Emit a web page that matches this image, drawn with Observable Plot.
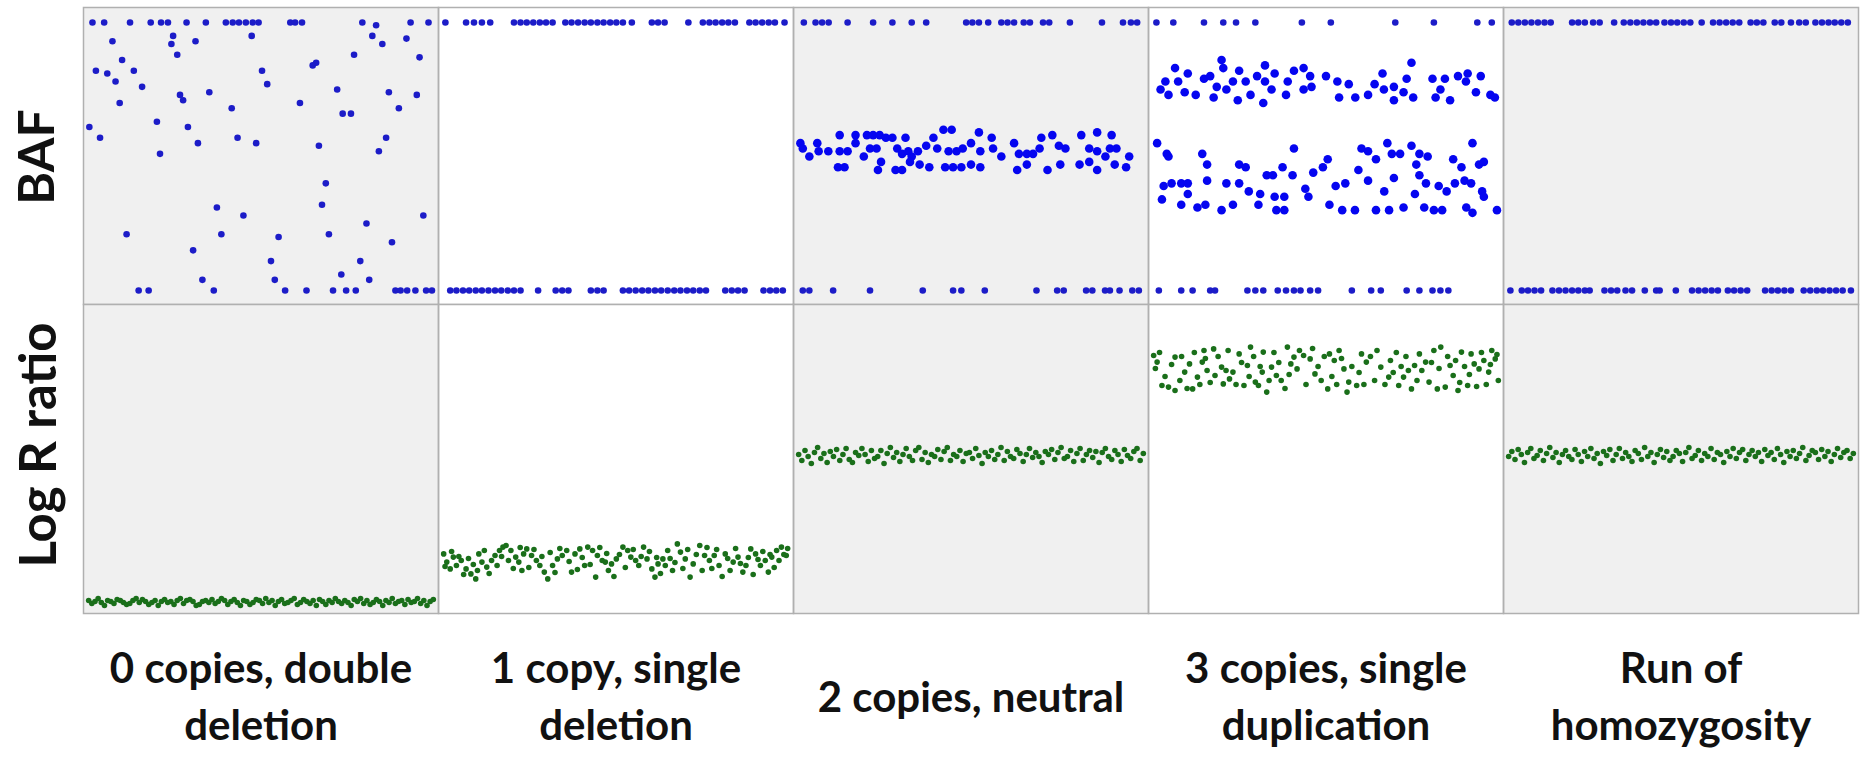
<!DOCTYPE html>
<html>
<head>
<meta charset="utf-8">
<script src="https://cdn.jsdelivr.net/npm/d3@7"></script>
<script src="https://cdn.jsdelivr.net/npm/@observablehq/plot@0.6"></script>
<style>
  html, body { margin: 0; padding: 0; background: #ffffff; }
  #chart svg { display: block; }
  #chart svg + svg { margin-top: -1px; }
</style>
</head>
<body>
<div id="chart"></div>
<script>
// ---------------- DATA ----------------
const columns = [
  "0 copies, double\ndeletion",
  "1 copy, single\ndeletion",
  "2 copies, neutral",
  "3 copies, single\nduplication",
  "Run of\nhomozygosity"
];
const rowLabels = ["BAF", "Log R ratio"];

// BAF = 1 probes (x position within segment, 0-100)
const bafBB = [
  [1.1, 4.5, 12, 18, 21, 23, 28.4, 34, 39.8, 41.8, 43.6, 45.6, 47.6, 49.3, 58.5, 59.9, 61.9, 79.4, 93.4, 98.6],
  [0.5, 6.5, 8.8, 11.1, 13.5, 20.4, 22.3, 24.1, 26, 27.9, 29.7, 31.6, 35.3, 37.1, 39, 40.9, 42.7, 44.6, 46.4, 48.3, 50.1, 52, 54.6, 60.4, 62.2, 64.1, 71, 75.2, 77.1, 78.9, 80.8, 82.6, 84.5, 88.7, 90.5, 92.4, 94.3, 96.1, 98.9],
  [1.5, 4.9, 6.8, 8.7, 14.2, 21.6, 27.2, 32.8, 37, 48.6, 50.4, 52.3, 55, 58.8, 60.6, 62.5, 65.3, 67.1, 70.9, 72.7, 78.7, 88, 94.1, 96.4, 98.2],
  [0.8, 5.7, 14.6, 20.2, 23.9, 29.5, 43, 51.4, 70.1, 81.3, 93.9, 98.1],
  [0.9, 2.8, 4.7, 6.6, 8.5, 10.4, 12.2, 18.4, 20.2, 22.1, 24.5, 26.4, 30.6, 33.4, 35.3, 37.2, 39.1, 41, 42.8, 45.2, 47.1, 48.9, 50.8, 52.7, 56, 59.3, 61.2, 63.1, 65, 66.9, 70.2, 72, 73.9, 77.2, 79.1, 81.9, 84.3, 86.2, 89, 90.9, 92.8, 94.6, 96.5, 98.4]
];

// BAF = 0 probes
const bafAA = [
  [14.5, 17.4, 36.3, 57, 63.2, 70.9, 74.7, 77.5, 89, 90.5, 92.4, 94.8, 97.9, 99.6],
  [1.9, 3.7, 5.6, 7.4, 9.3, 11.1, 13, 14.9, 16.7, 18.6, 20.4, 22.3, 27.4, 32.5, 34.4, 36.2, 42.7, 44.6, 46.4, 52, 53.8, 55.7, 57.6, 59.4, 61.3, 63.1, 65, 66.9, 68.7, 70.6, 72.4, 74.3, 76.1, 81.7, 83.6, 85.4, 87.3, 92.8, 94.7, 96.5, 98.4],
  [1.2, 3.1, 10, 20.7, 36, 44.8, 47.2, 54, 69, 75, 76.9, 83.4, 85.2, 88.9, 90.3, 93.1, 96.8, 98.7],
  [1.5, 8, 11.3, 16.4, 17.8, 27.2, 29.5, 31.8, 36, 38.4, 40.7, 42.6, 45.4, 47.7, 57.5, 63.1, 65.9, 73.4, 77.1, 80.9, 83.2, 85.5],
  [0.5, 3.8, 5.6, 7.5, 9.4, 12.7, 14.6, 16.5, 18.4, 20.2, 22.1, 23.5, 27.8, 29.7, 31.5, 33.9, 35.8, 39.5, 42.8, 43.8, 48.5, 53.2, 55.1, 57, 58.9, 60.7, 63.6, 65.4, 67.3, 69.2, 74.4, 76.3, 78.1, 80, 81.9, 85.6, 87.5, 89.4, 91.2, 93.1, 95, 96.9, 99.3]
];

// intermediate BAF probes: [x, BAF]
const bafMid0 = [
  [83.4,.99],[6.9,.93],[24.5,.95],[24,.92],[31,.93],[47.3,.95],[82.3,.95],[85.2,.92],[92.2,.94],[25.7,.88],
  [9.7,.86],[77,.88],[96,.87],[2.1,.82],[5.4,.81],[7.8,.78],[13.1,.82],[15.5,.76],[66,.85],[65,.84],
  [50.3,.82],[51.8,.77],[26.5,.73],[27.4,.71],[35,.74],[9,.70],[41.5,.68],[61.3,.70],[72.1,.75],[73.7,.66],
  [76.1,.66],[87.1,.74],[95.2,.73],[90,.68],[0.2,.61],[3.3,.57],[19.8,.63],[28.8,.61],[20.7,.51],[31.7,.55],
  [43.2,.57],[48.6,.55],[66.8,.54],[86.3,.57],[84.2,.52],[68.8,.40],[67.7,.32],[37.2,.31],[44.9,.28],[97.1,.28],
  [80.6,.25],[11,.21],[38.5,.21],[55.1,.20],[69.7,.21],[88,.18],[30.3,.15],[52.9,.11],[78.8,.11],[33,.04],
  [54,.04],[73.3,.06],[81.4,.04]
];
const bafMid1 = [];
const bafMid2 = [
  [0.5,.55],[1.2,.53],[3.1,.50],[5.4,.55],[5.8,.52],[8.6,.52],[11.9,.58],[11.9,.52],[11.4,.46],[13.3,.46],
  [14.2,.52],[16.5,.58],[16.5,.55],[18.9,.50],[19.8,.58],[21.6,.58],[23.5,.58],[20.7,.53],[22.6,.53],[23.9,.48],
  [23,.45],[25.3,.57],[27.2,.57],[28.6,.53],[30,.51],[31,.57],[31.8,.52],[32.8,.50],[28.1,.45],[30,.45],
  [32.3,.48],[34.6,.52],[35.1,.47],[37,.54],[37.9,.46],[39.1,.57],[40.2,.53],[42,.60],[44.4,.60],[43.5,.52],
  [45.8,.52],[42.5,.46],[44.8,.46],[47.2,.46],[47.6,.53],[50,.55],[50,.47],[52.3,.59],[52.7,.52],[52.7,.46],
  [56,.57],[56.4,.53],[58.8,.50],[62.5,.55],[63.9,.51],[63.4,.45],[66.2,.47],[66.2,.51],[68,.51],[69.9,.53],
  [70.4,.57],[72.2,.45],[73.6,.58],[75.5,.54],[75.9,.47],[77.4,.53],[81.5,.47],[82,.58],[84.3,.53],[84.3,.48],
  [86.6,.59],[86.6,.52],[86.6,.45],[89,.50],[90.8,.58],[90.3,.53],[92.2,.53],[91.7,.47],[95,.46],[95.9,.50]
];
const bafMid3 = [
  [6.2,.83],[3.4,.78],[2,.75],[4.3,.73],[7.1,.78],[9.9,.81],[9,.74],[12.2,.73],[14.6,.79],[16.4,.80],
  [19.7,.86],[20.2,.83],[18.3,.76],[17.4,.72],[21.1,.75],[23,.78],[24.8,.82],[24.4,.71],[26.7,.78],[28.1,.73],
  [30,.80],[32.3,.84],[32.3,.78],[31.8,.70],[34.2,.75],[35.1,.81],[38.4,.73],[38.9,.78],[40.7,.82],[43.5,.83],
  [45.4,.80],[43.5,.75],[45.8,.76],[50,.80],[53.3,.78],[53.8,.72],[56.6,.77],[58.5,.72],[62.2,.73],[64.1,.77],
  [66.4,.81],[66.8,.75],[69.7,.76],[69.7,.71],[72.5,.74],[73.4,.79],[74.8,.85],[75.3,.72],[80.9,.79],[81.8,.72],
  [83.2,.75],[84.5,.79],[86,.71],[88.3,.80],[91.1,.81],[90.6,.78],[93.5,.74],[94.9,.80],[97.7,.73],[99,.72],
  [1,.55],[3.8,.51],[4.3,.50],[5.2,.40],[2.9,.39],[2.4,.34],[8,.40],[9.9,.40],[9.9,.36],[8,.32],
  [12.7,.31],[15,.32],[15.5,.41],[14.1,.51],[15.5,.47],[21.1,.40],[19.7,.30],[23,.32],[24.8,.47],[24.8,.40],
  [26.7,.46],[27.6,.37],[30.9,.36],[30.4,.32],[32.8,.43],[34.6,.43],[35.1,.35],[35.6,.30],[37.9,.30],[37.4,.46],
  [37.9,.35],[40.7,.53],[40.3,.43],[44,.38],[44.9,.35],[46.3,.44],[49.1,.46],[50.5,.49],[51,.32],[52.8,.39],
  [54.7,.30],[55.6,.40],[58.4,.30],[59.4,.45],[60.3,.53],[62.2,.52],[62.2,.41],[64.5,.49],[64.5,.30],[66.9,.37],
  [68.3,.30],[67.8,.55],[69.1,.51],[69.7,.42],[71.5,.51],[72.5,.31],[74.8,.54],[76.2,.47],[75.8,.36],[77.1,.43],
  [77.1,.51],[79.5,.50],[79,.40],[78.5,.31],[81.3,.30],[83.7,.30],[82.7,.39],[85,.37],[86.9,.49],[87.4,.40],
  [89.3,.46],[90.2,.41],[90.7,.31],[92.5,.29],[92.1,.40],[92.5,.55],[94.4,.47],[95.8,.48],[95.3,.37],[95.8,.35],
  [99.6,.30]
];
const bafMid4 = [];
const bafMid = [bafMid0, bafMid1, bafMid2, bafMid3, bafMid4];

// Log R ratio: dense segments (probes in order along the segment)
const lrr0 = [
  -0.72,-0.735,-0.725,-0.71,-0.73,-0.745,-0.72,-0.725,-0.735,-0.715,
  -0.72,-0.73,-0.74,-0.735,-0.72,-0.71,-0.73,-0.715,-0.725,-0.74,
  -0.73,-0.72,-0.745,-0.725,-0.715,-0.73,-0.725,-0.74,-0.72,-0.71,
  -0.735,-0.72,-0.715,-0.725,-0.745,-0.74,-0.725,-0.72,-0.73,-0.715,
  -0.735,-0.725,-0.71,-0.72,-0.74,-0.725,-0.715,-0.73,-0.745,-0.72,
  -0.725,-0.74,-0.73,-0.715,-0.72,-0.735,-0.71,-0.73,-0.72,-0.745,
  -0.725,-0.715,-0.735,-0.73,-0.72,-0.71,-0.74,-0.73,-0.715,-0.725,
  -0.735,-0.72,-0.745,-0.715,-0.725,-0.74,-0.72,-0.73,-0.71,-0.725,
  -0.735,-0.72,-0.73,-0.745,-0.715,-0.725,-0.71,-0.735,-0.72,-0.74,
  -0.73,-0.715,-0.725,-0.745,-0.72,-0.73,-0.71,-0.735,-0.725,-0.72,
  -0.74,-0.715,-0.73,-0.725,-0.71,-0.735,-0.72,-0.745,-0.725,-0.715];
const lrr2 = [
  0.01,-0.02,0.03,0.0,-0.035,0.02,0.045,-0.01,0.015,-0.03,
  0.025,0.0,0.035,-0.02,0.01,0.04,-0.015,-0.03,0.02,0.005,
  0.04,0.01,-0.025,0.03,-0.01,0.0,0.03,-0.035,0.015,0.045,
  -0.005,0.02,-0.025,0.01,0.04,0.0,-0.02,0.03,0.045,-0.015,
  0.02,-0.03,0.01,0.0,0.035,-0.015,0.025,0.045,-0.02,0.01,
  0.0,0.03,-0.025,0.015,0.02,-0.01,0.04,0.005,-0.035,0.02,
  0.0,0.03,-0.015,0.01,0.045,-0.02,0.025,0.0,-0.01,0.035,
  0.015,-0.025,0.01,0.04,-0.005,0.02,0.0,-0.03,0.025,0.01,
  0.035,-0.015,0.02,0.045,-0.01,0.0,0.03,-0.025,0.015,0.04,
  -0.02,0.01,0.03,-0.005,0.025,-0.03,0.02,0.04,0.0,-0.015,
  0.03,0.01,-0.025,0.035,0.005,-0.01,0.025,0.04,-0.02,0.015];
const lrr4 = [
  0.0,0.025,-0.015,0.035,0.01,-0.03,0.02,0.04,-0.01,0.005,
  0.03,-0.02,0.015,0.045,-0.005,0.02,-0.03,0.01,0.03,0.0,
  -0.015,0.035,0.01,-0.025,0.025,0.0,0.04,-0.01,0.015,-0.035,
  0.025,0.005,0.035,-0.02,0.01,0.04,-0.01,0.02,0.0,-0.025,
  0.03,0.015,-0.015,0.045,0.0,0.02,-0.03,0.01,0.035,-0.005,
  0.025,-0.02,0.0,0.03,0.015,-0.025,0.02,0.045,-0.01,0.005,
  0.03,-0.02,0.015,0.0,0.04,-0.015,0.02,0.01,-0.03,0.025,
  0.0,0.04,-0.01,0.02,0.035,-0.02,0.01,0.03,0.0,0.02,
  -0.025,0.035,0.005,0.02,-0.015,0.04,0.01,-0.03,0.025,0.0,
  0.03,-0.01,0.015,0.045,-0.02,0.005,0.03,0.02,-0.015,0.035,
  0.0,0.025,-0.025,0.01,0.04,-0.005,0.02,0.03,-0.01,0.015];
// Log R ratio: scattered segments [x, LRR]
const lrr1 = [
  [0,-0.487],[0.9,-0.528],[1.9,-0.562],[2.8,-0.503],[3.7,-0.545],[5.1,-0.52],[6.5,-0.562],[7.9,-0.587],[9.3,-0.612],[10.2,-0.487],
  [11.1,-0.528],[12.5,-0.553],[13.9,-0.52],[14.9,-0.495],[16.2,-0.47],[17.2,-0.453],[18.1,-0.445],[19.5,-0.47],[20.9,-0.503],[21.8,-0.528],
  [22.7,-0.57],[23.2,-0.487],[24.1,-0.462],[25.5,-0.495],[26.9,-0.52],[27.9,-0.545],[29.2,-0.578],[30.2,-0.612],[31.6,-0.545],[33,-0.512],
  [34.4,-0.495],[35.7,-0.47],[37.1,-0.578],[38.1,-0.487],[39.5,-0.462],[40.9,-0.545],[41.8,-0.453],[43.2,-0.47],[44.1,-0.603],[44.6,-0.495],
  [46,-0.52],[46.9,-0.528],[47.8,-0.57],[48.7,-0.537],[50.1,-0.512],[52,-0.453],[53.4,-0.47],[54.3,-0.503],[55.7,-0.52],[56.6,-0.545],
  [58,-0.453],[59,-0.512],[60.4,-0.562],[61.3,-0.603],[62.2,-0.537],[63.6,-0.512],[65,-0.47],[66.4,-0.57],[67.8,-0.437],[68.7,-0.478],
  [70.1,-0.512],[71.5,-0.603],[72.4,-0.537],[74.3,-0.445],[75.7,-0.495],[77.1,-0.52],[78.5,-0.495],[79.9,-0.545],[81.7,-0.487],[83.1,-0.57],
  [84,-0.528],[85.4,-0.503],[86.8,-0.578],[87.7,-0.545],[89.1,-0.462],[90.5,-0.487],[91.9,-0.545],[93.3,-0.52],[94.2,-0.578],[95.2,-0.503],
  [96.6,-0.47],[98,-0.453],[99.4,-0.495],
  [0.4,-0.55],[2.3,-0.475],[4.4,-0.5],[5.8,-0.59],[7.2,-0.51],[8.6,-0.54],[9.8,-0.57],[11.8,-0.47],[13.2,-0.585],[15.5,-0.545],
  [16.8,-0.5],[18.8,-0.52],[20.2,-0.56],[22.2,-0.455],[24.7,-0.555],[26.2,-0.465],[28.5,-0.5],[30.9,-0.48],[32.3,-0.58],[33.7,-0.46],
  [36.4,-0.525],[38.8,-0.565],[40.2,-0.505],[42.5,-0.54],[45.3,-0.455],[47.3,-0.485],[49.4,-0.6],[51,-0.49],[52.7,-0.555],[55,-0.465],
  [57.3,-0.5],[59.7,-0.475],[61.8,-0.505],[62.9,-0.585],[64.3,-0.545],[65.7,-0.51],[67.1,-0.53],[69.4,-0.56],[70.8,-0.465],[73.3,-0.49],
  [75,-0.57],[76.4,-0.455],[77.8,-0.56],[79.2,-0.465],[80.8,-0.6],[82.4,-0.51],[84.7,-0.46],[86.1,-0.535],[88.4,-0.505],[89.8,-0.59],
  [91.2,-0.515],[92.6,-0.475],[94.7,-0.49],[95.9,-0.555],[97.3,-0.52],[98.7,-0.49],[99.8,-0.46]
];
const lrr3 = [
  [0,.505],[1,.472],[2.4,.355],[4.3,.347],[6.2,.33],[6.2,.497],[9,.422],[10.4,.463],[11.3,.338],[12.7,.397],
  [14.6,.53],[14.1,.472],[15.5,.43],[17.4,.538],[17.8,.405],[19.7,.447],[20.2,.363],[22,.388],[23,.422],[24.8,.513],
  [26.2,.355],[27.2,.455],[28.1,.547],[29.5,.372],[30.4,.355],[31.8,.522],[31.5,.422],[32.8,.322],[34.2,.447],[35.6,.405],
  [37,.38],[38.8,.547],[39.8,.463],[40.7,.497],[41.6,.438],[43.5,.505],[45.4,.488],[46.8,.413],[48.6,.38],[51,.513],
  [52.4,.48],[50.5,.338],[53.8,.53],[55.2,.438],[56.6,.372],[56.1,.322],[58.9,.355],[60.3,.513],[61.7,.472],[64.1,.38],
  [65.9,.447],[68.2,.397],[68.7,.48],[71.1,.355],[72.5,.397],[73.9,.43],[74.8,.338],[75.7,.455],[77.1,.513],[78.9,.472],
  [79.9,.372],[81.3,.53],[83.3,.547],[82.3,.338],[84.6,.347],[86,.455],[86.9,.405],[88.3,.33],[89.3,.522],[91.1,.355],
  [92.1,.513],[93,.463],[94.4,.438],[95.8,.48],[97.2,.422],[98.1,.53],[99.1,.488],[100,.38],
  [0.5,.44],[1.7,.52],[3.3,.4],[5.2,.46],[7.6,.38],[8.1,.5],[9.7,.34],[11.8,.52],[13.4,.36],[15,.49],
  [16.4,.37],[18.7,.5],[21,.43],[21.6,.53],[23.9,.36],[25.5,.47],[27.7,.4],[29,.5],[30.9,.45],[33.5,.38],
  [34.9,.52],[36.3,.47],[38.1,.34],[39.3,.41],[42.3,.53],[44.2,.36],[46.1,.54],[47.7,.45],[49.5,.5],[51.7,.4],
  [53.1,.36],[54.5,.49],[57.5,.45],[59.6,.42],[61,.36],[62.9,.5],[64.8,.53],[67.1,.36],[69.5,.42],[70.4,.52],
  [71.8,.45],[73.2,.5],[76.4,.38],[77.8,.43],[80.6,.47],[82.8,.44],[85.3,.5],[87.6,.48],[88.8,.37],[90.2,.45],
  [91.6,.41],[93.7,.35],[95.1,.52],[96.5,.36],[97.7,.46],[99.6,.51]
];

// ---------------- TABLES ----------------
const bafRows = [];
columns.forEach((col, i) => {
  bafBB[i].forEach(x => bafRows.push({col, x, baf: 1, kind: "hom"}));
  bafAA[i].forEach(x => bafRows.push({col, x, baf: 0, kind: "hom"}));
  bafMid[i].forEach(([x, b]) => bafRows.push({col, x, baf: b, kind: i === 2 || i === 3 ? "het" : "hom"}));
});
const lrrRows = [];
[[0, lrr0], [2, lrr2], [4, lrr4]].forEach(([i, vals]) => {
  vals.forEach((v, k) => lrrRows.push({col: columns[i], x: k * 100 / (vals.length - 1), lrr: v}));
});
[[1, lrr1], [3, lrr3]].forEach(([i, pairs]) => {
  pairs.forEach(([x, v]) => lrrRows.push({col: columns[i], x, lrr: v}));
});

// ---------------- PLOTS ----------------
const xDom = [-1.5, 101.5];
const font = 'Lato, "Open Sans", sans-serif';
const shade = (d, i) => (i % 2 === 0 ? "#f0f0f0" : "#ffffff");
const common = {
  width: 1872,
  marginLeft: 81,
  marginRight: 13,
  fx: {domain: columns, padding: 0, axis: null},
  x: {domain: xDom, axis: null},
  color: {type: "identity"},
  style: {fontFamily: font, background: "transparent", overflow: "visible"}
};

const bafPlot = Plot.plot({
  ...common,
  height: 305,
  marginTop: 7,
  marginBottom: 1,
  y: {domain: [-0.052, 1.056], axis: null},
  marks: [
    Plot.rect(columns, {fx: d => d, x1: () => xDom[0], x2: () => xDom[1], y1: () => -0.052, y2: () => 1.056, fill: shade}),
    Plot.frame({stroke: "#b0b0b0", strokeWidth: 1.5}),
    Plot.dot(bafRows.filter(d => d.kind === "hom"), {fx: "col", x: "x", y: "baf", r: 3.3, fill: "#1c1cc8", stroke: "none"}),
    Plot.dot(bafRows.filter(d => d.kind === "het"), {fx: "col", x: "x", y: "baf", r: 4.3, fill: "#0505f0", stroke: "none"}),
    Plot.text([rowLabels[0]], {fx: () => columns[0], text: d => d, frameAnchor: "left", rotate: -90, dx: -46, dy: 1,
      textAnchor: "middle", lineAnchor: "middle", fontSize: 50, fontWeight: "bold", fill: "#111111"})
  ]
});

const lrrPlot = Plot.plot({
  ...common,
  height: 462,
  marginTop: 0,
  marginBottom: 153,
  y: {domain: [-0.785, 0.76], axis: null},
  marks: [
    Plot.rect(columns, {fx: d => d, x1: () => xDom[0], x2: () => xDom[1], y1: () => -0.785, y2: () => 0.76, fill: shade}),
    Plot.frame({stroke: "#b0b0b0", strokeWidth: 1.5}),
    Plot.dot(lrrRows, {fx: "col", x: "x", y: "lrr", r: 2.8, fill: "#1a6f1a", stroke: "none"}),
    Plot.text([rowLabels[1]], {fx: () => columns[0], text: d => d, frameAnchor: "left", rotate: -90, dx: -44, dy: -14,
      textAnchor: "middle", lineAnchor: "middle", fontSize: 51, fontWeight: "bold", fill: "#111111"}),
    Plot.text(columns, {fx: d => d, text: d => d, frameAnchor: "bottom", dy: 80, lineAnchor: "middle",
      textAnchor: "middle", fontSize: 42, fontWeight: "bold", lineHeight: 1.36, fill: "#111111"})
  ]
});

document.getElementById("chart").append(bafPlot, lrrPlot);
</script>
</body>
</html>
